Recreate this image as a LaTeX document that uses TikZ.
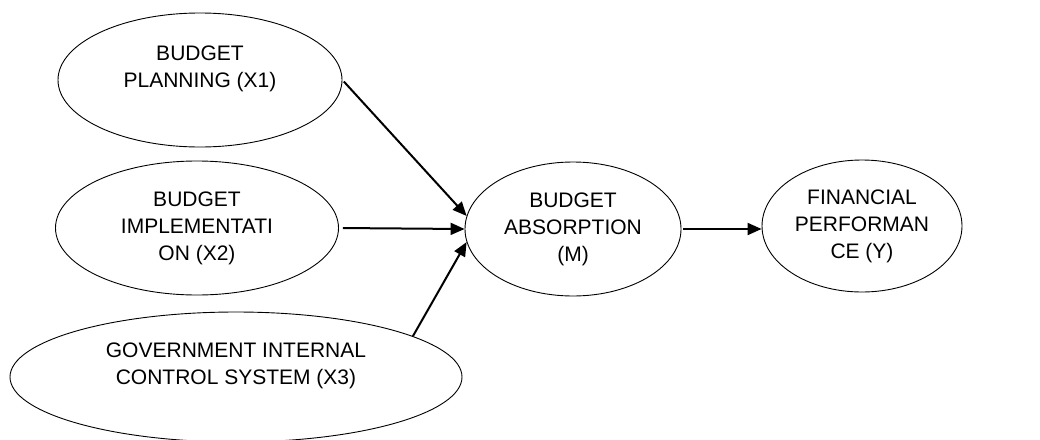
\documentclass[tikz,border=0pt]{standalone}
\usepackage{fontspec}
\setmainfont{Liberation Sans}
\usetikzlibrary{shapes.geometric,arrows.meta}

\begin{document}
\begin{tikzpicture}[x=1pt,y=-1pt,
    var/.style={draw,ellipse,line width=0.9pt,inner sep=0pt,align=center,
        font=\fontsize{21}{27}\selectfont},
    link/.style={line width=2pt,-{Triangle[length=14pt,width=12pt]}}]
\useasboundingbox (0,0) rectangle (1040,439);

\node[var,minimum width=284pt,minimum height=134pt] (x1) at (200,80) {BUDGET\\PLANNING (X1)\\[0pt]};
\node[var,minimum width=283pt,minimum height=134pt] (x2) at (197,228) {BUDGET\\IMPLEMENTATI\\ON (X2)};
\node[var,minimum width=452pt,minimum height=130pt] (x3) at (236,377) {GOVERNMENT INTERNAL\\CONTROL SYSTEM (X3)\\[0pt]};
\node[var,minimum width=216pt,minimum height=134pt] (m) at (573,229) {BUDGET\\ABSORPTION\\(M)};
\node[var,minimum width=200pt,minimum height=132pt] (y) at (862,226) {FINANCIAL\\PERFORMAN\\CE (Y)};

\draw[link,shorten <=2pt] (x1.east) -- (m.173);
\draw[link,shorten <=4pt] (x2.east) -- (m.west);
\draw[link] (x3.13) -- (m.187);
\draw[link,shorten <=2pt] (m.east) -- (y.west |- m.east);
\end{tikzpicture}
\end{document}
